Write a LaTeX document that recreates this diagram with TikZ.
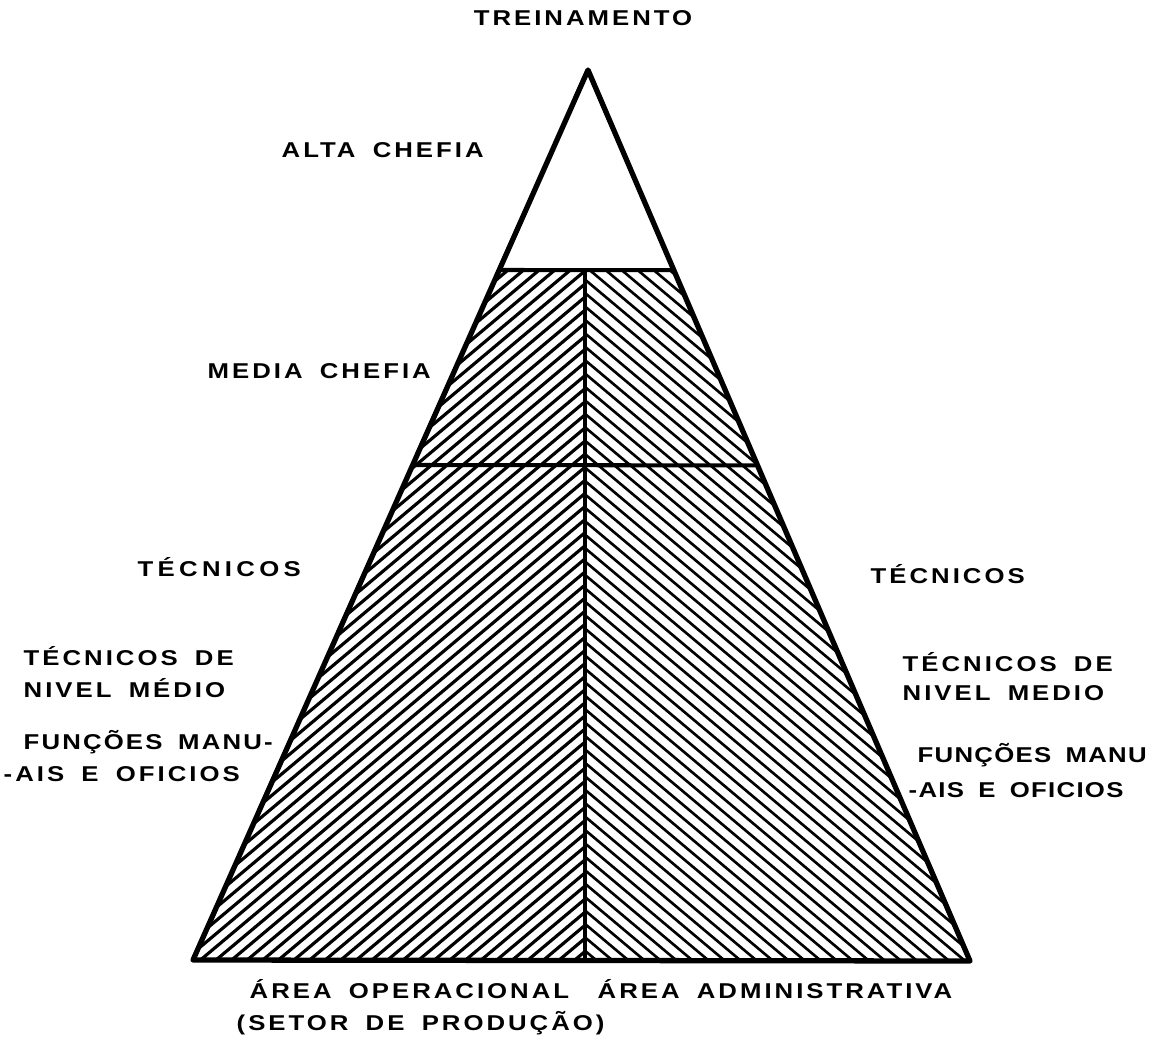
\documentclass[tikz,border=0pt]{standalone}
\usepackage{fontspec}
\newfontfamily\lett[LetterSpace=14, FakeStretch=1.2, WordSpace=1.7]{Liberation Sans}
\usetikzlibrary{calc}
\tikzset{
  outline/.style={line width=1.5pt, line join=round, line cap=round},
  divider/.style={line width=1.15pt, line cap=round},
  hatchL/.style={line width=0.9pt},
  hatchR/.style={line width=0.75pt},
  lbl/.style={font=\lett\bfseries\fontsize{6.1}{7.5}\selectfont, inner sep=0pt, anchor=west},
}
\begin{document}
\begin{tikzpicture}[x=0.01cm, y=-0.01cm]
\useasboundingbox (0,0) rectangle (1160,1042);
% key points
\coordinate (A) at (588,70);
\coordinate (BL) at (193,960);
\coordinate (BR) at (970,961);
\coordinate (L1l) at ($(A)!0.2247!(BL)$);
\coordinate (L1r) at ($(A)!0.2247!(BR)$);
\coordinate (L2l) at ($(A)!0.4438!(BL)$);
\coordinate (L2r) at ($(A)!0.4438!(BR)$);
\coordinate (C1) at (585,270);
\coordinate (C2) at (585,960.5);
% hatching left
\begin{scope}
  \clip (L1l) -- (C1) -- (C2) -- (BL) -- cycle;
  \foreach \k in {0,...,60} {
    \draw[hatchL] ({-330+\k*15.6-919},1731) -- ({-330+\k*15.6+919},189);
  }
\end{scope}
% hatching right
\begin{scope}
  \clip (C1) -- (L1r) -- (BR) -- (C2) -- cycle;
  \foreach \k in {0,...,60} {
    \draw[hatchR] ({580+\k*16-919},189) -- ({580+\k*16+919},1731);
  }
\end{scope}
% outlines
\draw[outline] (A) -- (BL) -- (BR) -- cycle;
\draw[divider] (L1l) -- (L1r);
\draw[divider] (L2l) -- (L2r);
\draw[divider] (C1) -- (C2);
% labels
\node[lbl, anchor=center] (tre) at (583,18) {TREINAMENTO};
\node[lbl] (alta) at (281,150) {ALTA CHEFIA};
\node[lbl] (media) at (207,371) {MEDIA CHEFIA};
\node[lbl] (tecL) at (137,567) {\addfontfeature{LetterSpace=20}TÉCNICOS};
\node[lbl] (tdL1) at (23,656) {TÉCNICOS DE};
\node[lbl] (tdL2) at (23,688) {NIVEL MÉDIO};
\node[lbl] (fmL1) at (23,742) {\addfontfeature{LetterSpace=10}FUNÇÕES MANU-};
\node[lbl] (fmL2) at (3,774) {-AIS E OFICIOS};
\node[lbl] (tecR) at (870,574) {TÉCNICOS};
\node[lbl] (tdR1) at (902,662) {TÉCNICOS DE};
\node[lbl] (tdR2) at (902,693) {NIVEL MEDIO};
\node[lbl] (fmR1) at (917,755) {\addfontfeature{LetterSpace=6}FUNÇÕES MANU};
\node[lbl] (fmR2) at (908,790) {\addfontfeature{LetterSpace=6}-AIS E OFICIOS};
\node[lbl] (op) at (249,989) {ÁREA OPERACIONAL};
\node[lbl] (adm) at (597,989) {ÁREA ADMINISTRATIVA};
\node[lbl] (setor) at (236,1023) {(SETOR DE PRODUÇÃO)};
\end{tikzpicture}
\end{document}
